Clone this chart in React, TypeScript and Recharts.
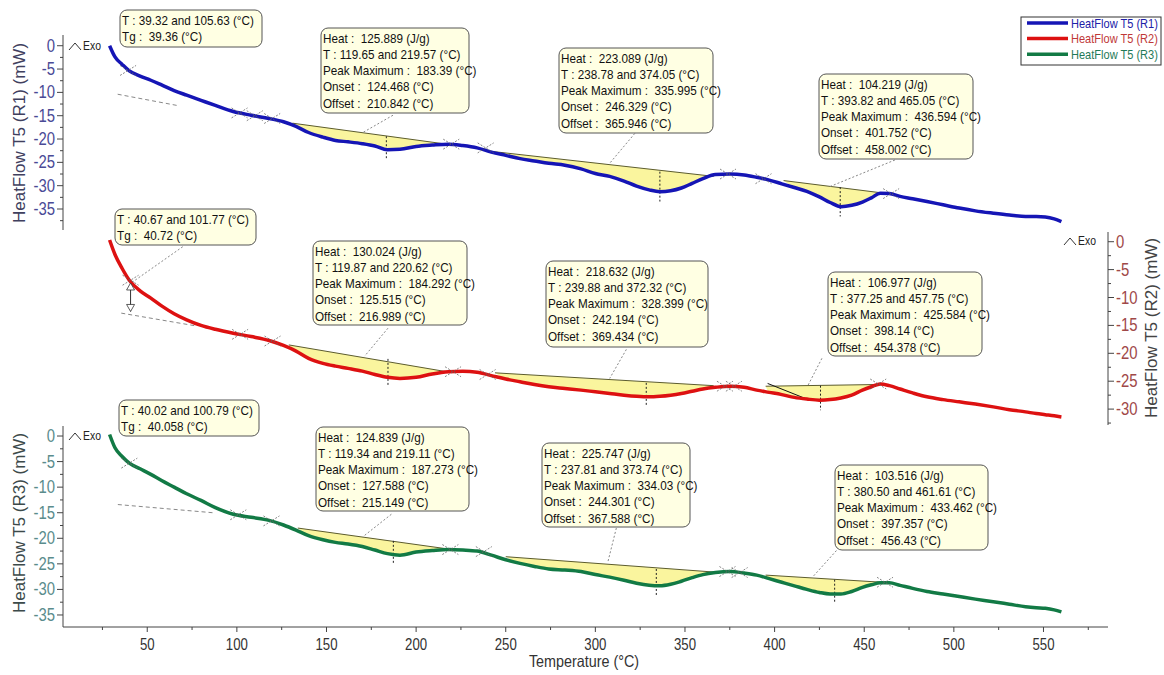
import React from "react";
import {
  ComposedChart,
  Line,
  Area,
  Scatter,
  XAxis,
  YAxis,
  ReferenceLine,
  ReferenceDot,
} from "recharts";

const W = 1164;
const H = 675;
const PLOT_LEFT = 63;
const PLOT_RIGHT = 1108;
const FONT = "'Liberation Sans', Arial, sans-serif";

// temperature grid (°C)
const temps = [
  29, 32, 36, 40, 46, 52, 58, 65, 72, 80,
  88, 98, 108, 118, 126, 133, 140, 148, 155, 162,
  170, 177, 184, 191, 200, 209, 218, 226, 234, 242,
  250, 258, 266, 274, 283, 292, 300, 308, 316, 323,
  330, 336, 342, 348, 354, 360, 367, 375, 383, 390,
  397, 404, 411, 418, 425, 431, 437, 443, 449, 454,
  459, 464, 470, 477, 485, 494, 503, 512, 522, 531,
  540, 546, 551, 556, 560,
];

// heat flow (mW) for each run
const r1Flow = [
  0, -2.4, -4.0, -5.4, -6.5, -7.4, -8.4, -9.6, -10.6, -11.7,
  -12.8, -14.1, -14.9, -15.6, -16.3, -17.3, -18.6, -19.6, -20.3, -20.6,
  -21.0, -21.5, -22.3, -22.2, -21.6, -21.3, -21.1, -21.4, -21.9, -22.8,
  -23.5, -24.2, -24.7, -25.2, -25.6, -26.4, -27.4, -28.0, -29.0, -30.1,
  -30.9, -31.3, -31.1, -30.5, -29.5, -28.5, -27.6, -27.5, -27.7, -28.2,
  -28.8, -29.6, -30.4, -31.2, -32.4, -33.6, -34.5, -34.2, -33.5, -32.6,
  -31.6, -31.7, -32.3, -32.8, -33.4, -34.1, -34.8, -35.4, -35.9, -36.3,
  -36.6, -36.6, -36.7, -37.1, -37.7,
];
const r2Flow = [
  0.3, -2.3, -4.8, -6.9, -8.8, -10.1, -11.5, -12.9, -14.0, -15.0,
  -15.7, -16.4, -17.0, -17.7, -18.6, -19.6, -20.9, -21.8, -22.3, -22.7,
  -23.2, -23.8, -24.3, -24.5, -24.3, -23.7, -23.3, -23.2, -23.4, -24.0,
  -24.6, -25.1, -25.6, -26.0, -26.3, -26.6, -26.9, -27.2, -27.5, -27.7,
  -27.8, -27.7, -27.5, -27.2, -26.8, -26.4, -26.1, -25.9, -26.1, -26.6,
  -27.0, -27.4, -27.9, -28.2, -28.4, -28.3, -28.0, -27.5, -26.6, -26.0,
  -25.5, -25.8, -26.4, -27.1, -27.8, -28.3, -28.7, -29.1, -29.6, -30.1,
  -30.5, -30.8, -31.0, -31.2, -31.4,
];
const r3Flow = [
  0.3, -2.3, -4.0, -5.3, -6.4, -7.5, -8.7, -10.0, -11.3, -12.6,
  -14.0, -15.3, -15.9, -16.5, -17.4, -18.4, -19.5, -20.3, -20.8, -21.1,
  -21.6, -22.3, -23.0, -23.3, -22.7, -22.4, -22.2, -22.3, -22.5, -23.3,
  -24.2, -24.9, -25.5, -26.0, -26.2, -26.5, -27.1, -27.6, -28.2, -28.8,
  -29.2, -29.3, -29.0, -28.4, -27.7, -27.1, -26.7, -26.5, -26.8, -27.2,
  -27.9, -28.6, -29.3, -30.0, -30.6, -30.9, -30.9, -30.4, -29.6, -29.1,
  -28.7, -28.7, -29.2, -29.8, -30.4, -30.9, -31.4, -31.9, -32.4, -32.9,
  -33.4, -33.6, -33.7, -34.0, -34.4,
];

// peak integration baselines: [T start, flow start, T end, flow end]
const r1Peaks = [[131, -16.6, 217, -21.1], [241, -22.6, 366, -28.0], [405, -28.9, 461, -31.6]];
const r2Peaks = [[129, -18.5, 217, -23.3], [244, -23.5, 366, -25.8], [395, -25.9, 456, -25.6]];
const r3Peaks = [[134, -18.0, 218, -22.1], [250, -23.6, 366, -26.6], [395, -27.2, 460, -28.6]];

// peak maximum markers: [T, top, bottom]
const r1PeakMax = [[183.4, -19.4, -24.1], [336.0, -27.0, -33.4], [436.6, -30.3, -36.6]];
const r2PeakMax = [[184.3, -21.0, -26.0], [328.4, -25.3, -29.6], [425.6, -25.8, -30.2]];
const r3PeakMax = [[187.3, -20.5, -25.0], [334.0, -26.0, -31.1], [433.5, -28.1, -32.7]];

// dotted leaders from the notes: [T1, flow1, T2, flow2]
const r1Leaders = [[187.1, -14.9, 170.3, -18.6], [322, -18.8, 308, -25.2], [467.1, -24.5, 430.8, -30.2]];
const r2Leaders = [[69.8, -0.9, 41.9, -7.2], [184.3, -15.5, 171.3, -20.5], [317.3, -19.3, 308, -24.5], [426.4, -20.9, 418.7, -25.7]];
const r3Leaders = [[186.2, -15.3, 170.3, -19.7], [311.7, -18.0, 307, -24.6], [434.5, -22.4, 421.4, -27.5]];

// Tg extrapolated baselines
const r1TgLine = [33.5, -10.4, 68, -12.9];
const r2TgLine = [35.5, -12.8, 77.3, -15.1];
const r3TgLine = [33.6, -13.4, 86.6, -15.0];

// limit crosses: [T, flow]
const r1Limits = [[39.3, -5.3], [101.5, -14.4], [110, -15.0], [119.7, -15.6], [219.6, -21.1], [238.8, -21.9], [374, -27.5], [393.8, -28.5], [465, -31.7]];
const r2Limits = [[40.7, -6.9], [101.8, -16.6], [119.9, -17.8], [220.6, -23.3], [239.9, -23.8], [372.3, -25.9], [377.3, -25.9], [457.8, -25.5]];
const r3Limits = [[40, -5.3], [100.8, -15.4], [119.3, -16.6], [219.1, -22.2], [237.8, -22.6], [373.7, -26.5], [380.5, -26.7], [461.6, -28.6]];

const r1Ticks = [0, -2.5, -5, -7.5, -10, -12.5, -15, -17.5, -20, -22.5, -25, -27.5, -30, -32.5, -35, -37.5];
const r2Ticks = [0, -2.5, -5, -7.5, -10, -12.5, -15, -17.5, -20, -22.5, -25, -27.5, -30, -32.5];
const r3Ticks = [0, -2.5, -5, -7.5, -10, -12.5, -15, -17.5, -20, -22.5, -25, -27.5, -30, -32.5, -35];
const tempTicks = [25, 50, 75, 100, 125, 150, 175, 200, 225, 250, 275, 300, 325, 350, 375, 400, 425, 450, 475, 500, 525, 550, 575];

const r1Notes = [
  { x: 120, y: 10, w: 142, h: 37, lines: ["T : 39.32 and 105.63 (°C)", "Tg :  39.36 (°C)"] },
  { x: 321, y: 28, w: 148, h: 85, lines: ["Heat :  125.889 (J/g)", "T : 119.65 and 219.57 (°C)", "Peak Maximum :  183.39 (°C)", "Onset :  124.468 (°C)", "Offset :  210.842 (°C)"] },
  { x: 559, y: 48, w: 154, h: 85, lines: ["Heat :  223.089 (J/g)", "T : 238.78 and 374.05 (°C)", "Peak Maximum :  335.995 (°C)", "Onset :  246.329 (°C)", "Offset :  365.946 (°C)"] },
  { x: 819, y: 74, w: 154, h: 85, lines: ["Heat :  104.219 (J/g)", "T : 393.82 and 465.05 (°C)", "Peak Maximum :  436.594 (°C)", "Onset :  401.752 (°C)", "Offset :  458.002 (°C)"] },
];
const r2Notes = [
  { x: 115, y: 209, w: 141, h: 36, lines: ["T : 40.67 and 101.77 (°C)", "Tg :  40.72 (°C)"] },
  { x: 313, y: 241, w: 154, h: 84, lines: ["Heat :  130.024 (J/g)", "T : 119.87 and 220.62 (°C)", "Peak Maximum :  184.292 (°C)", "Onset :  125.515 (°C)", "Offset :  216.989 (°C)"] },
  { x: 546, y: 261, w: 162, h: 86, lines: ["Heat :  218.632 (J/g)", "T : 239.88 and 372.32 (°C)", "Peak Maximum :  328.399 (°C)", "Onset :  242.194 (°C)", "Offset :  369.434 (°C)"] },
  { x: 828, y: 272, w: 154, h: 84, lines: ["Heat :  106.977 (J/g)", "T : 377.25 and 457.75 (°C)", "Peak Maximum :  425.584 (°C)", "Onset :  398.14 (°C)", "Offset :  454.378 (°C)"] },
];
const r3Notes = [
  { x: 119, y: 400, w: 140, h: 36, lines: ["T : 40.02 and 100.79 (°C)", "Tg :  40.058 (°C)"] },
  { x: 316, y: 427, w: 153, h: 84, lines: ["Heat :  124.839 (J/g)", "T : 119.34 and 219.11 (°C)", "Peak Maximum :  187.273 (°C)", "Onset :  127.588 (°C)", "Offset :  215.149 (°C)"] },
  { x: 542, y: 443, w: 148, h: 84, lines: ["Heat :  225.747 (J/g)", "T : 237.81 and 373.74 (°C)", "Peak Maximum :  334.03 (°C)", "Onset :  244.301 (°C)", "Offset :  367.588 (°C)"] },
  { x: 835, y: 465, w: 153, h: 85, lines: ["Heat :  103.516 (J/g)", "T : 380.50 and 461.61 (°C)", "Peak Maximum :  433.462 (°C)", "Onset :  397.357 (°C)", "Offset :  456.43 (°C)"] },
];

// yellow band between the straight baseline and the curve
function bandData(flow: number[], peak: number[]) {
  const [ta, ba, tb, bb] = peak;
  const pts: any[] = [{ t: ta, band: [ba, ba] }];
  temps.forEach((t, i) => {
    if (t > ta && t < tb) {
      const base = ba + ((bb - ba) * (t - ta)) / (tb - ta);
      pts.push({ t, band: [base, flow[i]] });
    }
  });
  pts.push({ t: tb, band: [bb, bb] });
  return pts;
}

const Cross = (props: any) => {
  const { cx, cy } = props;
  return (
    <g stroke="#666" strokeWidth={0.8} strokeDasharray="2 1.5">
      <line x1={cx - 8} y1={cy + 5} x2={cx + 8} y2={cy - 5} />
      <line x1={cx - 8} y1={cy - 5} x2={cx + 8} y2={cy + 5} />
    </g>
  );
};

const makeYTick = (side: "left" | "right", color: string) => (props: any) => {
  const { y, payload } = props;
  const v = payload.value;
  const major = Math.abs(v % 5) < 1e-6;
  const axisX = side === "left" ? PLOT_LEFT : PLOT_RIGHT;
  const d = side === "left" ? -1 : 1;
  return (
    <g>
      <line x1={axisX} x2={axisX + d * (major ? 6 : 3)} y1={y} y2={y} stroke="#444" />
      {major && (
        <text
          transform={`translate(${axisX + d * 8},${y + 6}) scale(0.85,1)`}
          textAnchor={side === "left" ? "end" : "start"}
          fontSize={17.5}
          fontFamily={FONT}
          fill={color}
        >
          {v}
        </text>
      )}
    </g>
  );
};

const XTick = (props: any) => {
  const { x, payload } = props;
  const major = payload.value % 50 === 0;
  const axisY = H - 48;
  return (
    <g>
      <line x1={x} x2={x} y1={axisY} y2={axisY + (major ? 5 : 3)} stroke="#444" />
      {major && (
        <text
          transform={`translate(${x},${axisY + 23}) scale(0.8,1)`}
          textAnchor="middle"
          fontSize={16.5}
          fontFamily={FONT}
          fill="#333"
        >
          {payload.value}
        </text>
      )}
    </g>
  );
};

type PanelProps = {
  flow: number[];
  color: string;
  peaks: number[][];
  peakMax: number[][];
  leaders: number[][];
  limits: number[][];
  tgLine: number[];
  top: number;
  bottom: number;
  domain: [number, number];
  ticks: number[];
  side: "left" | "right";
  tickColor: string;
  showX?: boolean;
  extra?: React.ReactNode[];
};

function Panel(p: PanelProps) {
  const lineData = temps.map((t, i) => ({ t, v: p.flow[i] }));
  const limitData = p.limits.map(([t, v]) => ({ t, v }));
  const left = p.side === "left";
  return (
    <div style={{ position: "absolute", left: 0, top: 0 }}>
      <ComposedChart
        width={W}
        height={H}
        margin={{
          top: p.top,
          bottom: p.showX ? 0 : H - p.bottom,
          left: left ? 0 : PLOT_LEFT,
          right: left ? W - PLOT_RIGHT : 0,
        }}
      >
        <XAxis
          type="number"
          dataKey="t"
          domain={[3, 586]}
          hide={!p.showX}
          height={48}
          ticks={tempTicks}
          interval={0}
          tick={<XTick />}
          tickLine={false}
          axisLine={{ stroke: "#444" }}
        />
        <YAxis
          orientation={p.side}
          width={left ? PLOT_LEFT : W - PLOT_RIGHT}
          domain={p.domain}
          ticks={p.ticks}
          interval={0}
          tick={makeYTick(p.side, p.tickColor)}
          tickLine={false}
          axisLine={{ stroke: "#444" }}
        />
        {p.peaks.map((pk, i) => (
          <Area
            key={`band-${i}`}
            data={bandData(p.flow, pk)}
            dataKey="band"
            type="monotone"
            fill="#faf59e"
            fillOpacity={1}
            stroke="none"
            isAnimationActive={false}
          />
        ))}
        {p.peaks.map((pk, i) => (
          <ReferenceLine
            key={`base-${i}`}
            segment={[{ x: pk[0], y: pk[1] }, { x: pk[2], y: pk[3] }]}
            stroke="#5c5c2e"
            strokeWidth={1}
            ifOverflow="visible"
          />
        ))}
        {p.peakMax.map((m, i) => (
          <ReferenceLine
            key={`max-${i}`}
            segment={[{ x: m[0], y: m[1] }, { x: m[0], y: m[2] }]}
            stroke="#222"
            strokeDasharray="2 2"
            ifOverflow="visible"
          />
        ))}
        {p.leaders.map((l, i) => (
          <ReferenceLine
            key={`lead-${i}`}
            segment={[{ x: l[0], y: l[1] }, { x: l[2], y: l[3] }]}
            stroke="#888"
            strokeDasharray="2 2"
            ifOverflow="visible"
          />
        ))}
        <ReferenceLine
          segment={[{ x: p.tgLine[0], y: p.tgLine[1] }, { x: p.tgLine[2], y: p.tgLine[3] }]}
          stroke="#888"
          strokeDasharray="4 3"
          ifOverflow="visible"
        />
        {p.extra}
        <Line
          data={lineData}
          dataKey="v"
          type="monotone"
          stroke={p.color}
          strokeWidth={3.5}
          dot={false}
          isAnimationActive={false}
        />
        <Scatter data={limitData} dataKey="v" shape={<Cross />} isAnimationActive={false} />
      </ComposedChart>
    </div>
  );
}

function Note({ x, y, w, h, lines }: { x: number; y: number; w: number; h: number; lines: string[] }) {
  const first = lines.length === 2 ? 15.2 : 14.8;
  return (
    <g>
      <rect x={x} y={y} width={w} height={h} rx={7} fill="#ffffe3" stroke="#555" strokeWidth={1} />
      {lines.map((s, i) => (
        <text
          key={i}
          transform={`translate(${x + 2},${y + first + i * 16.2}) scale(0.9,1)`}
          fontSize={13}
          fontFamily={FONT}
          fill="#111"
          style={{ whiteSpace: "pre" }}
        >
          {s}
        </text>
      ))}
    </g>
  );
}

function Exo({ x, y }: { x: number; y: number }) {
  return (
    <g>
      <polyline points={`${x},${y} ${x + 6},${y - 7} ${x + 12},${y}`} fill="none" stroke="#333" strokeWidth={1} />
      <text transform={`translate(${x + 14},${y}) scale(0.8,1)`} fontSize={13} fontFamily={FONT} fill="#222">
        Exo
      </text>
    </g>
  );
}

function AxisTitle({ x, y, text, color }: { x: number; y: number; text: string; color: string }) {
  return (
    <text
      transform={`translate(${x},${y}) rotate(-90)`}
      textAnchor="middle"
      fontSize={17}
      fontFamily={FONT}
      fill={color}
    >
      {text}
    </text>
  );
}

const legendItems = [
  { name: "HeatFlow T5 (R1)", line: "#1515b5", text: "#2020a8" },
  { name: "HeatFlow T5 (R2)", line: "#dd1111", text: "#c03838" },
  { name: "HeatFlow T5 (R3)", line: "#127a45", text: "#1f7a58" },
];

const ArrowHead = (up: boolean) => (props: any) => {
  const { cx, cy } = props;
  const d = up ? `M${cx - 4},${cy + 7} L${cx},${cy} L${cx + 4},${cy + 7} Z` : `M${cx - 4},${cy - 7} L${cx},${cy} L${cx + 4},${cy - 7} Z`;
  return <path d={d} fill="#fff" stroke="#333" strokeWidth={0.8} />;
};

const r2Extra = [
  <ReferenceLine key="tan" segment={[{ x: 396.1, y: -25.4 }, { x: 419.5, y: -28.4 }]} stroke="#111" ifOverflow="visible" />,
  <ReferenceLine key="arr" segment={[{ x: 40.7, y: -7.4 }, { x: 40.7, y: -12.5 }]} stroke="#333" ifOverflow="visible" />,
  <ReferenceDot key="arrUp" x={40.7} y={-7.4} shape={ArrowHead(true)} ifOverflow="visible" />,
  <ReferenceDot key="arrDn" x={40.7} y={-12.5} shape={ArrowHead(false)} ifOverflow="visible" />,
];

export default function App() {
  return (
    <div style={{ position: "absolute", left: 0, top: 0, width: W, height: H, background: "#fff" }}>
      <Panel
        flow={r1Flow}
        color="#1515b5"
        peaks={r1Peaks}
        peakMax={r1PeakMax}
        leaders={r1Leaders}
        limits={r1Limits}
        tgLine={r1TgLine}
        top={35}
        bottom={230}
        domain={[-39.5, 2.3]}
        ticks={r1Ticks}
        side="left"
        tickColor="#4a4a96"
      />
      <Panel
        flow={r2Flow}
        color="#dd1111"
        peaks={r2Peaks}
        peakMax={r2PeakMax}
        leaders={r2Leaders}
        limits={r2Limits}
        tgLine={r2TgLine}
        top={232}
        bottom={425}
        domain={[-32.85, 1.74]}
        ticks={r2Ticks}
        side="right"
        tickColor="#a04848"
        extra={r2Extra}
      />
      <Panel
        flow={r3Flow}
        color="#127a45"
        peaks={r3Peaks}
        peakMax={r3PeakMax}
        leaders={r3Leaders}
        limits={r3Limits}
        tgLine={r3TgLine}
        top={426}
        bottom={627}
        domain={[-37.35, 1.96]}
        ticks={r3Ticks}
        side="left"
        tickColor="#5a8c8c"
        showX
      />
      <svg width={W} height={H} style={{ position: "absolute", left: 0, top: 0, pointerEvents: "none" }}>
        {[...r1Notes, ...r2Notes, ...r3Notes].map((n, i) => (
          <Note key={i} {...n} />
        ))}
        <Exo x={69} y={50} />
        <Exo x={1064} y={245} />
        <Exo x={69} y={440} />
        <AxisTitle x={25} y={133} text="HeatFlow T5 (R1) (mW)" color="#40405e" />
        <AxisTitle x={1157} y={328} text="HeatFlow T5 (R2) (mW)" color="#444" />
        <AxisTitle x={25} y={523} text="HeatFlow T5 (R3) (mW)" color="#3c4a4a" />
        <text
          transform={`translate(584,667) scale(0.87,1)`}
          textAnchor="middle"
          fontSize={16.5}
          fontFamily={FONT}
          fill="#333"
        >
          Temperature (°C)
        </text>
        <rect x={1021} y={17} width={140} height={48} fill="#fff" stroke="#333" strokeWidth={1} />
        {legendItems.map((it, i) => (
          <g key={it.name}>
            <line x1={1027} x2={1068} y1={23 + i * 15.6} y2={23 + i * 15.6} stroke={it.line} strokeWidth={3.5} />
            <text
              transform={`translate(1071,${27.5 + i * 15.6}) scale(0.85,1)`}
              fontSize={13}
              fontFamily={FONT}
              fill={it.text}
            >
              {it.name}
            </text>
          </g>
        ))}
      </svg>
    </div>
  );
}
